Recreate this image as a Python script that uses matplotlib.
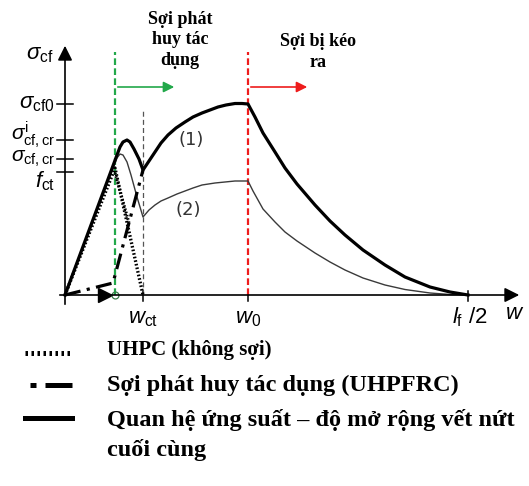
import matplotlib.pyplot as plt

plt.rcParams['mathtext.fontset'] = 'custom'
plt.rcParams['mathtext.rm'] = 'Liberation Sans'
plt.rcParams['mathtext.it'] = 'Liberation Sans:italic'
plt.rcParams['mathtext.bf'] = 'Liberation Sans:bold'

# crack openings on the w axis (schematic units)
w_cr = 50
w_ct = 78
w_0 = 183
w_end = 403  # l_f / 2

# stress levels marked on the sigma axis
f_ct = 123
s_cr = 136
s_cr_i = 155
s_0 = 191

# (1) final stress - crack opening relation
w1 = [0, 52, 55, 58, 62, 65, 69, 74, 78, 84, 90, 96, 103, 111, 120, 128, 137, 145, 153,
      161, 170, 177, 183, 190, 198, 210, 220, 232, 250, 265, 280, 298, 320, 340, 365, 385, 403]
s1 = [0, 140, 148, 153, 155, 153, 146, 136, 125, 134, 143, 152, 160, 167, 173, 178, 182, 185, 188,
      190, 191.5, 191.5, 191, 178, 162, 143, 127, 111, 90, 74, 60, 45, 30, 18, 8, 3, 0]

# (2) lower fibre content
w2 = [0, 52, 55, 58, 62, 66, 72, 78, 84, 90, 96, 103, 112, 120, 128, 137, 150, 160, 170,
      183, 188, 198, 210, 220, 232, 250, 265, 280, 298, 320, 340, 365, 385, 403]
s2 = [0, 137, 141, 140, 133, 120, 98, 78, 85, 90, 94, 97, 101, 104, 107, 110, 112, 113, 114,
      114, 104, 86, 73, 63, 54, 42, 33, 25, 17, 10, 5.5, 2, 0.5, 0]

# UHPC matrix without fibres
w_m = [0, 50, 78]
s_m = [0, 127, 0]
w_m2 = [50, 64]
s_m2 = [122, 72]

# fibre contribution (UHPFRC)
w_f = [0, 48, 78]
s_f = [0, 12, 125]

fig = plt.figure(figsize=(5.29, 4.86), dpi=100)
ax = fig.add_axes([0, 0, 1, 1])
ax.set_xlim(-65, 464)
ax.set_ylim(-191, 295)
ax.axis('off')

serif = 'Liberation Serif'

# axes with arrows
ax.annotate('', xy=(457, 0), xytext=(-8, 0),
            arrowprops=dict(arrowstyle='-|>', color='black', lw=1.2, mutation_scale=22))
ax.annotate('', xy=(0, 252), xytext=(0, -12),
            arrowprops=dict(arrowstyle='-|>', color='black', lw=1.2, mutation_scale=22))

# ticks
for s in [s_0, s_cr_i, s_cr, f_ct]:
    ax.plot([-8, 8], [s, s], color='black', lw=1.1)
for w in [w_ct, w_0, w_end]:
    ax.plot([w, w], [-6, 4], color='black', lw=1.1)

# reference lines
ax.plot([w_cr, w_cr], [0, 243], color='#22a84a', ls=(0, (3, 1.5)), lw=1.6)
ax.plot([w_0, w_0], [0, 243], color='#ee1c1c', ls=(0, (3, 1.5)), lw=1.6)
ax.plot([w_ct, w_ct], [0, 185], color='#555555', ls=(0, (4, 2.5)), lw=0.9)
ax.annotate('', xy=(112, 208), xytext=(w_cr, 208),
            arrowprops=dict(arrowstyle='-|>', color='#22a84a', lw=1.2, mutation_scale=16))
ax.annotate('', xy=(245, 208), xytext=(w_0, 208),
            arrowprops=dict(arrowstyle='-|>', color='#ee1c1c', lw=1.2, mutation_scale=16))

# curves
ax.plot(w2, s2, color='#3a3a3a', lw=1.0)
ax.plot(w1, s1, color='black', lw=2.3, solid_joinstyle='round')
ax.plot(w_m, s_m, color='black', lw=2.4, ls=(0, (0.5, 0.6)))
ax.plot(w_m2, s_m2, color='black', lw=2.2, ls=(0, (0.5, 0.6)))
ax.plot(w_f, s_f, color='black', lw=2.3, ls=(0, (5, 2, 1, 2)))
ax.plot([40], [0], marker='>', color='black', ms=10)
ax.plot([w_cr], [0], marker='o', mfc='none', mec='#3a7a4a', ms=5, mew=0.9)

ax.text(126, 155, '(1)', fontsize=13, color='#333333', ha='center', va='center')
ax.text(123, 85, '(2)', fontsize=13, color='#333333', ha='center', va='center')

# axis labels
ax.text(-25, 240, r'$\sigma_{\rm cf}$', fontsize=16, ha='center', va='center')
ax.text(-10, s_0, r'$\sigma_{\rm cf0}$', fontsize=16, ha='right', va='center')
ax.text(-10, 160, r'$\sigma^{\rm i}_{\rm cf,cr}$', fontsize=15, ha='right', va='center')
ax.text(-10, 136, r'$\sigma_{\rm cf,cr}$', fontsize=15, ha='right', va='center')
ax.text(-10, 114, r'$f_{\rm ct}$', fontsize=16, ha='right', va='center')
ax.text(w_ct, -24, r'$w_{\rm ct}$', fontsize=16, ha='center', va='center')
ax.text(w_0, -24, r'$w_{\rm 0}$', fontsize=16, ha='center', va='center')
ax.text(w_end + 2, -22, r'$l_{\rm f}\ /2$', fontsize=16, ha='center', va='center')
ax.text(450, -18, r'$w$', fontsize=16, ha='center', va='center')

# headings
ax.text(115, 255, 'Sợi phát\nhuy tác\ndụng', fontsize=13, fontweight='bold', family=serif,
        ha='center', va='center', linespacing=1.25)
ax.text(253, 243, 'Sợi bị kéo\nra', fontsize=13, fontweight='bold', family=serif,
        ha='center', va='center', linespacing=1.25)

# legend
ax.plot([-40, 7], [-58, -58], color='black', lw=3.6, ls=(0, (0.5, 0.7)))
ax.plot([-35, 7], [-90, -90], color='black', lw=3.6, ls=(0, (1.2, 1.8, 5.4, 10)))
ax.plot([-40, 7], [-123, -123], color='black', lw=3.6)
ax.text(42, -55, 'UHPC (không sợi)', fontsize=15, fontweight='bold', family=serif, va='center')
ax.text(42, -90, 'Sợi phát huy tác dụng (UHPFRC)', fontsize=17.5, fontweight='bold',
        family=serif, va='center')
ax.text(42, -125, 'Quan hệ ứng suất – độ mở rộng vết nứt', fontsize=17.5, fontweight='bold',
        family=serif, va='center')
ax.text(42, -155, 'cuối cùng', fontsize=17.5, fontweight='bold', family=serif, va='center')

fig.savefig('out.png', dpi=100)
